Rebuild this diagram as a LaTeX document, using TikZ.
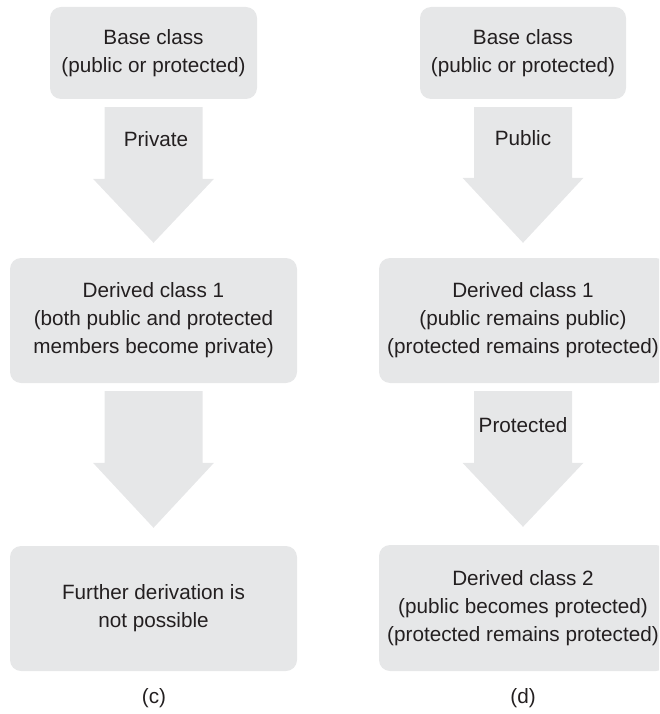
\documentclass[tikz,border=0pt]{standalone}
\usepackage{fontspec}
\setmainfont{Liberation Sans}
\usetikzlibrary{calc}
\definecolor{boxgray}{RGB}{230,231,232}
\definecolor{ink}{RGB}{35,31,32}
\newcommand{\blockarrow}[4]{%
  \fill[boxgray] ($(#1.south)+(-49,8)$) -- ($(#1.south)+(49,8)$)
    -- ($(#2.north)+(49,-#3)$) -- ($(#2.north)+(60.5,-#3)$)
    -- ($(#2.north)+(0,-#4)$)
    -- ($(#2.north)+(-60.5,-#3)$) -- ($(#2.north)+(-49,-#3)$) -- cycle;}
\begin{document}
\begin{tikzpicture}[x=1pt,y=-1pt,
  every node/.style={text=ink, font=\fontsize{20.7}{28}\selectfont},
  box/.style={fill=boxgray, rounded corners=11pt, align=center, inner sep=0pt},
  lbl/.style={anchor=base}]
\path[use as bounding box, clip] (0,0) rectangle (659,714);
% left column (c)
\node[box, minimum width=207pt, minimum height=92pt] (bl) at (153.5,53) {Base class\\(public or protected)};
\node[box, minimum width=287pt, minimum height=125pt] (dl) at (153.5,320.5) {Derived class 1\\(both public and protected\\members become private)};
\node[box, minimum width=287pt, minimum height=125pt] (fl) at (153.5,608.5) {Further derivation is\\not possible};
\blockarrow{bl}{dl}{79}{15}
\blockarrow{dl}{fl}{83}{18}
\node[lbl] (pl) at (156,147) {Private};
\node (cl) at (154,698) {(c)};
% right column (d)
\node[box, minimum width=206pt, minimum height=92pt] (br) at (523,53) {Base class\\(public or protected)};
\node[box, minimum width=288pt, minimum height=125pt] (dr1) at (523,320.5) {Derived class 1\\(public remains public)\\(protected remains protected)};
\node[box, minimum width=288pt, minimum height=126pt] (dr2) at (523,608) {Derived class 2\\(public becomes protected)\\(protected remains protected)};
\blockarrow{br}{dr1}{80}{15}
\blockarrow{dr1}{dr2}{82}{18}
\node[lbl] (pu) at (523,146) {Public};
\node[lbl] (pr) at (523,432) {Protected};
\node (dlab) at (523,698) {(d)};
\end{tikzpicture}
\end{document}
